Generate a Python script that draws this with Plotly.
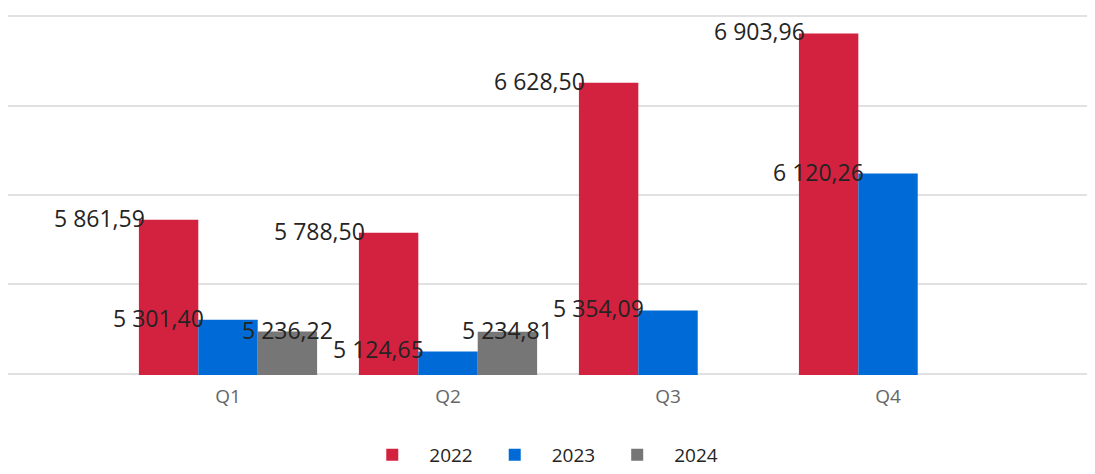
import plotly.graph_objects as go

quarters = ["Q1", "Q2", "Q3", "Q4"]
years = ["2022", "2023", "2024"]
v2022 = [5861.59, 5788.50, 6628.50, 6903.96]
v2023 = [5301.40, 5124.65, 5354.09, 6120.26]
v2024 = [5236.22, 5234.81, None, None]
colors = ["#D32240", "#006BD6", "#767676"]

series = [v2022, v2023, v2024]

def fmt(v):
    s = f"{v:,.2f}"
    return s.replace(",", " ").replace(".", ",")

fig = go.Figure()
for name, vals, col in zip(years, series, colors):
    fig.add_trace(go.Bar(
        name=name, x=quarters, y=vals, marker_color=col,
        marker_line_width=0,
    ))

# label placement (pixel shifts relative to category centre)
slot_px = 59.5
label_shift = [-slot_px - 69, -70, slot_px]
for si, vals in enumerate(series):
    for qi, v in enumerate(vals):
        if v is None:
            continue
        fig.add_annotation(
            x=quarters[qi], y=v, xref="x", yref="y", text=fmt(v),
            showarrow=False, xshift=label_shift[si], yshift=2, yanchor="middle",
            font=dict(family="Open Sans", size=23, color="#252423"),
        )

# page has an 8px body margin, so the figure is sized/offset to compensate
fig.update_layout(
    width=1087, height=466,
    margin=dict(l=0, r=5, t=6.75, b=98.75, autoexpand=False),
    paper_bgcolor="white", plot_bgcolor="white",
    barmode="group", bargap=0.19, bargroupgap=0,
    showlegend=True,
    legend=dict(orientation="h", x=0.491, xanchor="center", yref="container",
                y=0.0, yanchor="bottom",
                font=dict(family="Open Sans", size=19, color="#252423"),
                traceorder="normal", itemwidth=64),
    xaxis=dict(type="category", range=[-1, 3.918], showgrid=False, automargin=False,
               tickfont=dict(family="Open Sans", size=19, color="#666666"),
               ticklabelstandoff=8,
               showline=False, ticks=""),
    yaxis=dict(range=[4993, 7007], tick0=5000, dtick=500, showticklabels=False,
               automargin=False,
               showgrid=True, gridcolor="#E1E1E1", gridwidth=2,
               zeroline=False),
)

fig.write_html("out.html")
